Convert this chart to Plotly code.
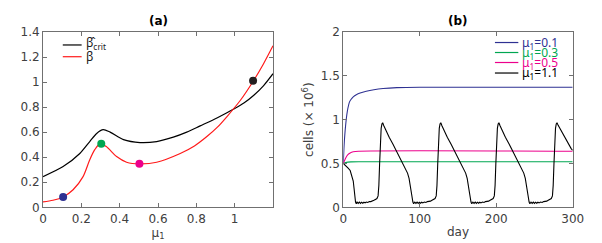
import plotly.graph_objects as go

# ---------------- Panel (a) data ----------------
mu1_crit = [0.0, 0.105, 0.192, 0.244, 0.28, 0.314, 0.35, 0.42, 0.506, 0.593, 0.68, 0.75, 0.82, 0.91, 0.995, 1.05, 1.1, 1.15, 1.2]
beta_crit = [0.245, 0.325, 0.43, 0.525, 0.59, 0.62, 0.60, 0.54, 0.517, 0.525, 0.56, 0.60, 0.65, 0.715, 0.785, 0.835, 0.895, 0.97, 1.067]

mu1_beta = [0.0, 0.052, 0.105, 0.157, 0.209, 0.244, 0.27, 0.297, 0.33, 0.384, 0.436, 0.506, 0.593, 0.716, 0.79, 0.855, 0.91, 0.96, 1.03, 1.1, 1.15, 1.2]
beta_vals = [0.043, 0.056, 0.083, 0.14, 0.245, 0.38, 0.46, 0.507, 0.485, 0.405, 0.36, 0.347, 0.36, 0.43, 0.49, 0.565, 0.64, 0.725, 0.855, 1.015, 1.145, 1.29]

marker_mu1 = [0.105, 0.304, 0.503, 1.096]
marker_beta = [0.083, 0.507, 0.347, 1.01]
marker_colors = ["#2e3192", "#00a651", "#ec008c", "#231f20"]

# ---------------- Panel (b) data ----------------
day_blue = [0, 1, 2, 3, 4.5, 6, 8, 10, 13, 17, 22, 30, 40, 52, 70, 100, 300]
cells_blue = [0.5, 0.70, 0.83, 0.93, 1.05, 1.13, 1.20, 1.23, 1.26, 1.285, 1.305, 1.325, 1.342, 1.355, 1.365, 1.37, 1.37]

day_green = [0, 3, 6, 10, 20, 300]
cells_green = [0.5, 0.51, 0.515, 0.518, 0.52, 0.52]

day_magenta = [0, 3, 6, 9, 13, 20, 300]
cells_magenta = [0.5, 0.56, 0.60, 0.62, 0.633, 0.64, 0.64]

day_black = [
    0, 3, 6, 9, 11, 13, 14, 15, 16, 17, 18, 19.5, 21, 22.5, 24, 25.5, 27, 28.5, 30, 32, 34, 36, 38, 40, 42, 44,
    45.5, 46.5, 47.5, 48.5, 49.5, 50.5, 51.5, 53, 56, 60, 65, 70, 75, 80, 84, 86, 88, 89.5, 91,
    92, 93.5, 95, 96.5, 98, 99.5, 101, 102.5, 104, 106, 108, 110, 112, 114, 116, 118, 120,
    121.5, 122.5, 123.5, 124.5, 125.5, 126.5, 127.5, 129, 132, 136, 141, 146, 151, 156, 160, 162, 164, 165.5, 167,
    168, 169.5, 171, 172.5, 174, 175.5, 177, 178.5, 180, 182, 184, 186, 188, 190, 192, 194, 196,
    197.5, 198.5, 199.5, 200.5, 201.5, 202.5, 203.5, 205, 208, 212, 217, 222, 227, 232, 236, 238, 240, 241.5, 243,
    244, 245.5, 247, 248.5, 250, 251.5, 253, 254.5, 256, 258, 260, 262, 264, 266, 268, 270, 272,
    273.5, 274.5, 275.5, 276.5, 277.5, 278.5, 279.5, 281, 284, 288, 293, 298, 300,
]
cells_black = [
    0.5, 0.48, 0.45, 0.42, 0.37, 0.30, 0.22, 0.12, 0.06, 0.04, 0.06, 0.045, 0.06, 0.045, 0.058, 0.047, 0.058, 0.05, 0.06, 0.055, 0.065, 0.065, 0.07, 0.08, 0.09, 0.10,
    0.13, 0.25, 0.50, 0.75, 0.90, 0.95, 0.965, 0.93, 0.87, 0.80, 0.72, 0.63, 0.55, 0.46, 0.39, 0.33, 0.24, 0.14, 0.06,
    0.04, 0.06, 0.045, 0.06, 0.045, 0.058, 0.047, 0.058, 0.05, 0.06, 0.055, 0.065, 0.065, 0.07, 0.08, 0.09, 0.10,
    0.13, 0.25, 0.50, 0.75, 0.90, 0.95, 0.965, 0.93, 0.87, 0.80, 0.72, 0.63, 0.55, 0.46, 0.39, 0.33, 0.24, 0.14, 0.06,
    0.04, 0.06, 0.045, 0.06, 0.045, 0.058, 0.047, 0.058, 0.05, 0.06, 0.055, 0.065, 0.065, 0.07, 0.08, 0.09, 0.10,
    0.13, 0.25, 0.50, 0.75, 0.90, 0.95, 0.965, 0.93, 0.87, 0.80, 0.72, 0.63, 0.55, 0.46, 0.39, 0.33, 0.24, 0.14, 0.06,
    0.04, 0.06, 0.045, 0.06, 0.045, 0.058, 0.047, 0.058, 0.05, 0.06, 0.055, 0.065, 0.065, 0.07, 0.08, 0.09, 0.10,
    0.13, 0.25, 0.50, 0.75, 0.90, 0.95, 0.965, 0.935, 0.885, 0.82, 0.74, 0.67, 0.65,
]

a_xticks = [0, 0.2, 0.4, 0.6, 0.8, 1.0]
a_xticktext = ["0", "0.2", "0.4", "0.6", "0.8", "1"]
a_yticks = [0, 0.2, 0.4, 0.6, 0.8, 1.0, 1.2, 1.4]
a_yticktext = ["0", "0.2", "0.4", "0.6", "0.8", "1", "1.2", "1.4"]
b_xticks = [0, 100, 200, 300]
b_yticks = [0, 0.5, 1, 1.5, 2]
b_yticktext = ["0", "0.5", "1", "1.5", "2"]

legend_a = ["β\u0302<sub>crit</sub>", "β"]
legend_b = ["μ<sub>1</sub>=0.1", "μ<sub>1</sub>=0.3", "μ<sub>1</sub>=0.5", "μ<sub>1</sub>=1.1"]

BLUE, GREEN, MAGENTA, RED, BLACK = "#2e3192", "#00a651", "#ec008c", "#ff1a1a", "#000000"
FONT = "DejaVu Sans"
LFONT = "Noto Sans"
TICKC = "#404040"
AXC = "#707070"

fig = go.Figure()

fig.add_trace(go.Scatter(x=mu1_crit, y=beta_crit, mode="lines", line=dict(color=BLACK, width=1.2, shape="spline", smoothing=0.8),
                         xaxis="x", yaxis="y", showlegend=False))
fig.add_trace(go.Scatter(x=mu1_beta, y=beta_vals, mode="lines", line=dict(color=RED, width=1.2, shape="spline", smoothing=0.8),
                         xaxis="x", yaxis="y", showlegend=False))
fig.add_trace(go.Scatter(x=marker_mu1, y=marker_beta, mode="markers",
                         marker=dict(color=marker_colors, size=8, line=dict(width=0)),
                         xaxis="x", yaxis="y", showlegend=False))

for d, c, col in [(day_blue, cells_blue, BLUE), (day_green, cells_green, GREEN),
                  (day_magenta, cells_magenta, MAGENTA)]:
    fig.add_trace(go.Scatter(x=d, y=c, mode="lines", line=dict(color=col, width=1.1, shape="spline", smoothing=0.8),
                             xaxis="x2", yaxis="y2", showlegend=False))
fig.add_trace(go.Scatter(x=day_black, y=cells_black, mode="lines", line=dict(color=BLACK, width=1.1),
                         xaxis="x2", yaxis="y2", showlegend=False))

def ax(domain, rng, tickvals, ticktext, anchor):
    return dict(domain=domain, range=rng, tickvals=tickvals, ticktext=ticktext, anchor=anchor,
                showline=True, linecolor=AXC, linewidth=1, mirror="ticks", ticks="inside", ticklen=4,
                tickcolor=AXC, showgrid=False, zeroline=False, automargin=False,
                tickfont=dict(family=FONT, size=12, color=TICKC))

XA = [43 / 602, 273 / 602]
XB = [343.3 / 602, 572.7 / 602]
YD = [1 - 207.3 / 243, 1 - 32 / 243]

fig.update_layout(
    width=602, height=243, margin=dict(l=0, r=0, t=0, b=0, autoexpand=False),
    paper_bgcolor="white", plot_bgcolor="white",
    xaxis=ax(XA, [0, 1.2], a_xticks, a_xticktext, "y"),
    yaxis=ax(YD, [0, 1.4], a_yticks, a_yticktext, "x"),
    xaxis2=ax(XB, [0, 300], b_xticks, [str(v) for v in b_xticks], "y2"),
    yaxis2=ax(YD, [0, 2], b_yticks, b_yticktext, "x2"),
)
fig.layout.xaxis.title = dict(text="μ<sub>1</sub>", font=dict(family=FONT, size=12, color=TICKC), standoff=2)
fig.layout.xaxis2.title = dict(text="day", font=dict(family=FONT, size=12, color=TICKC), standoff=2)
fig.layout.yaxis2.title = dict(text="cells (× 10<sup>6</sup>)", font=dict(family=FONT, size=12, color=TICKC), standoff=4)

ann = []
ann.append(dict(text="<b>(a)</b>", x=0.5, y=1.0, xref="x domain", yref="y domain", yanchor="bottom", xanchor="center",
                yshift=2, showarrow=False, font=dict(family=FONT, size=12, color="#000")))
ann.append(dict(text="<b>(b)</b>", x=0.5, y=1.0, xref="x2 domain", yref="y2 domain", yanchor="bottom", xanchor="center",
                yshift=2, showarrow=False, font=dict(family=FONT, size=12, color="#000")))

shapes = []
# legend (a)
for i, (name, col) in enumerate(zip(legend_a, [BLACK, RED])):
    yy = [0.926, 0.859][i]
    shapes.append(dict(type="line", xref="x domain", yref="y domain", x0=0.086, x1=0.168, y0=yy, y1=yy,
                       line=dict(color=col, width=1.2)))
    ann.append(dict(text=name, xref="x domain", yref="y domain", x=0.18, y=yy, xanchor="left", yanchor="middle",
                    yshift=[2, 0][i], showarrow=False, font=dict(family=LFONT, size=12, color="#222")))
# legend (b)
for i, (name, col) in enumerate(zip(legend_b, [BLUE, GREEN, MAGENTA, BLACK])):
    yy = [0.94, 0.883, 0.826, 0.766][i]
    shapes.append(dict(type="line", xref="x2 domain", yref="y2 domain", x0=0.661, x1=0.763, y0=yy, y1=yy,
                       line=dict(color=col, width=1.2)))
    ann.append(dict(text=name, xref="x2 domain", yref="y2 domain", x=0.77, y=yy, xanchor="left", yanchor="middle",
                    showarrow=False, font=dict(family=LFONT, size=12, color=col)))

fig.update_layout(annotations=ann, shapes=shapes)
fig.write_html("out.html", config={"displayModeBar": False},
               post_script="document.body.style.margin='0';document.body.style.overflow='hidden';")
